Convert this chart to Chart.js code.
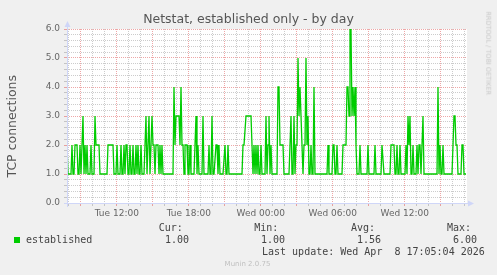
<!DOCTYPE html>
<html><head><meta charset="utf-8">
<script src="https://cdn.jsdelivr.net/npm/chart.js@4/dist/chart.umd.min.js"></script>
<style>
html,body{margin:0;padding:0;background:#f0f0f0;}
#wrap{position:relative;width:497px;height:275px;overflow:hidden;font-family:"DejaVu Sans",sans-serif;color:#666;}
canvas{position:absolute;left:0;top:0;}
.t{position:absolute;white-space:pre;line-height:1;}
.mono{font-family:"DejaVu Sans Mono",monospace;font-size:10px;color:#444;}
</style></head><body>
<div id="wrap">
<canvas id="c" width="497" height="275"></canvas>
<div class="t" style="left:0;width:497px;text-align:center;top:13px;font-size:12.5px;color:#555;">Netstat, established only - by day</div>
<div class="t" style="left:-88px;width:200px;top:119.75px;font-size:12.5px;text-align:center;color:#555;transform:rotate(-90deg);">TCP connections</div>
<div class="t" style="left:428.3px;width:120px;top:50.3px;font-size:6.5px;text-align:center;color:#c8c8c8;transform:rotate(90deg);">RRDTOOL / TOBI OETIKER</div>
<div style="position:absolute;left:14px;top:237px;width:6px;height:6px;background:#00cc00;"></div>
<div class="t mono" style="left:26px;top:235.2px;">established</div>
<div class="t mono" style="left:158.7px;top:222.5px;">Cur:</div>
<div class="t mono" style="left:254.3px;top:222.5px;">Min:</div>
<div class="t mono" style="left:351px;top:222.5px;">Avg:</div>
<div class="t mono" style="left:447px;top:222.5px;">Max:</div>
<div class="t mono" id="vCur" style="left:165px;top:235.2px;"></div>
<div class="t mono" id="vMin" style="left:261px;top:235.2px;"></div>
<div class="t mono" id="vAvg" style="left:357px;top:235.2px;"></div>
<div class="t mono" id="vMax" style="left:453px;top:235.2px;"></div>
<div class="t mono" style="left:262px;top:246.5px;">Last update: Wed Apr  8 17:05:04 2026</div>
<div class="t" style="left:0;width:495px;text-align:center;top:260.6px;font-size:7px;color:#c0c0c0;">Munin 2.0.75</div>
</div>
<script>
// ---- data (5-minute samples, Tue ~07:51 to Wed ~17:11) ----
const startHour = 7.85;      // hours after Tue 00:00 of first sample
const stepHours = 5 / 60;    // 5-minute resolution
const established = [
  2,1,1,1,1,2,1,1,2,2,
  2,1,1,2,1,2,3,1,2,1,
  2,1,1,1,2,1,1,1,3,2,
  2,2,2,1,1,1,1,1,1,1,
  1,2,2,2,2,2,2,1,1,1,
  2,1,1,1,2,1,1,2,1,2,
  2,1,1,2,1,1,2,1,1,2,
  1,2,1,1,2,1,1,1,2,3,
  1,2,3,1,2,3,2,2,1,2,
  2,2,1,2,1,2,1,1,1,1,
  1,1,1,1,1,1,1,4,2,3,
  3,3,3,2,4,2,2,1,2,2,
  2,1,1,2,1,1,1,1,2,3,
  1,2,1,1,1,1,3,1,1,1,
  1,1,2,1,1,3,1,1,1,2,
  2,1,2,1,1,1,1,1,2,1,
  1,2,1,1,1,1,1,1,1,1,
  1,1,1,1,1,1,2,2,2,3,
  3,3,3,3,3,2,1,2,1,2,
  1,2,1,1,2,1,1,1,1,3,
  1,2,3,1,2,1,1,1,1,1,
  1,4,4,2,2,2,2,1,1,1,
  1,1,1,1,3,1,1,3,1,2,
  2,5,3,4,3,2,1,2,2,5,
  2,3,1,1,2,1,1,4,1,1,
  1,1,1,1,1,1,1,1,1,1,
  1,2,1,1,1,1,2,2,1,1,
  2,1,1,1,1,1,2,2,2,2,
  4,4,3,6,6,3,4,3,4,2,
  1,1,1,2,1,1,1,1,1,1,
  1,2,1,1,1,1,1,1,2,1,
  1,1,1,1,1,2,2,1,1,1,
  1,1,1,1,2,2,2,2,1,1,
  2,1,1,2,1,1,1,1,1,2,
  1,3,2,3,1,1,2,1,1,1,
  2,1,2,2,1,2,3,1,1,1,
  1,1,1,1,1,1,1,1,1,1,
  1,4,1,2,1,1,2,1,1,1,
  1,1,1,1,1,1,2,3,3,2,
  2,1,1,1,1,2,2,1,1,1
];
const labelHours = [12, 18, 24, 30, 36];
const labelTexts = ['Tue 12:00', 'Tue 18:00', 'Wed 00:00', 'Wed 06:00', 'Wed 12:00'];
const yMax = 6;
const legendStats = {cur: '1.00', min: '1.00', avg: '1.56', max: '6.00'};

document.getElementById('vCur').textContent = legendStats.cur;
document.getElementById('vMin').textContent = legendStats.min;
document.getElementById('vAvg').textContent = legendStats.avg;
document.getElementById('vMax').textContent = legendStats.max;

const points = established.map((v, i) => ({x: startHour + i * stepHours, y: v}));
const xMin = startHour, xMax = startHour + established.length * stepHours;

const GRID = 'rgba(143,143,143,0.45)';
const MGRID = 'rgba(222,79,79,0.5)';
const AXIS = '#CFD6F8';

const muninPlugin = {
  id: 'munin',
  beforeDraw(chart) {
    const a = chart.chartArea, c = chart.ctx;
    c.save();
    c.fillStyle = '#ffffff';
    c.fillRect(a.left, a.top, a.right - a.left, a.bottom - a.top);
    c.restore();
  },
  afterDraw(chart) {
    const a = chart.chartArea, c = chart.ctx;
    const y0 = Math.round(chart.scales.y.getPixelForValue(0)) + 0.5;
    const x0 = Math.round(a.left) + 0.5;
    c.save();
    c.strokeStyle = AXIS; c.fillStyle = AXIS; c.lineWidth = 1;
    c.beginPath();
    c.moveTo(a.left - 3, y0); c.lineTo(a.right + 2, y0);
    c.moveTo(x0, a.bottom + 4); c.lineTo(x0, a.top - 3);
    c.stroke();
    c.beginPath();
    c.moveTo(a.right + 7, y0); c.lineTo(a.right + 1, y0 - 3); c.lineTo(a.right + 1, y0 + 3); c.closePath();
    c.fill();
    c.beginPath();
    c.moveTo(x0, a.top - 8); c.lineTo(x0 - 3, a.top - 2); c.lineTo(x0 + 3, a.top - 2); c.closePath();
    c.fill();
    c.restore();
  }
};

new Chart(document.getElementById('c'), {
  type: 'line',
  data: {
    datasets: [{
      label: 'established',
      data: points,
      borderColor: '#00cc00',
      borderWidth: 1.3,
      pointRadius: 0,
      tension: 0,
      fill: false
    }]
  },
  options: {
    responsive: false,
    animation: false,
    events: [],
    layout: {padding: {left: 0, right: 30, top: 29, bottom: 52}},
    plugins: {legend: {display: false}, tooltip: {enabled: false}, title: {display: false}},
    scales: {
      x: {
        type: 'linear',
        min: xMin, max: xMax,
        afterBuildTicks(scale) {
          const t = [];
          for (let h = Math.ceil(xMin); h <= Math.floor(xMax); h++) t.push({value: h});
          scale.ticks = t;
        },
        afterFit(scale) { scale.height = 20; },
        ticks: {
          autoSkip: false, maxRotation: 0, minRotation: 0, padding: 2,
          color: '#666', font: {family: 'DejaVu Sans', size: 9},
          callback(v) { const k = labelHours.indexOf(Math.round(v)); return k >= 0 ? labelTexts[k] : ''; }
        },
        grid: {
          color: ctx => (ctx.tick && Math.round(ctx.tick.value) % 3 === 0) ? MGRID : GRID,
          tickColor: ctx => (ctx.tick && Math.round(ctx.tick.value) % 3 === 0) ? MGRID : GRID,
          tickLength: 3, lineWidth: 1
        },
        border: {display: false, dash: [1, 1]}
      },
      y: {
        type: 'linear',
        min: 0, max: yMax,
        afterBuildTicks(scale) {
          const t = [];
          for (let k = 0; k <= yMax * 5; k++) t.push({value: k / 5});
          scale.ticks = t;
        },
        afterFit(scale) { scale.width = 67; },
        ticks: {
          autoSkip: false, padding: 4,
          color: '#666', font: {family: 'DejaVu Sans', size: 9},
          callback(v) { return Math.abs(v - Math.round(v)) < 1e-6 ? v.toFixed(1) : ''; }
        },
        grid: {
          color: ctx => (ctx.tick && Math.abs(ctx.tick.value - Math.round(ctx.tick.value)) < 1e-6) ? MGRID : GRID,
          tickColor: ctx => (ctx.tick && Math.abs(ctx.tick.value - Math.round(ctx.tick.value)) < 1e-6) ? MGRID : GRID,
          tickLength: 3, lineWidth: 1
        },
        border: {display: false, dash: [1, 1]}
      }
    }
  },
  plugins: [muninPlugin]
});
</script>
</body></html>
